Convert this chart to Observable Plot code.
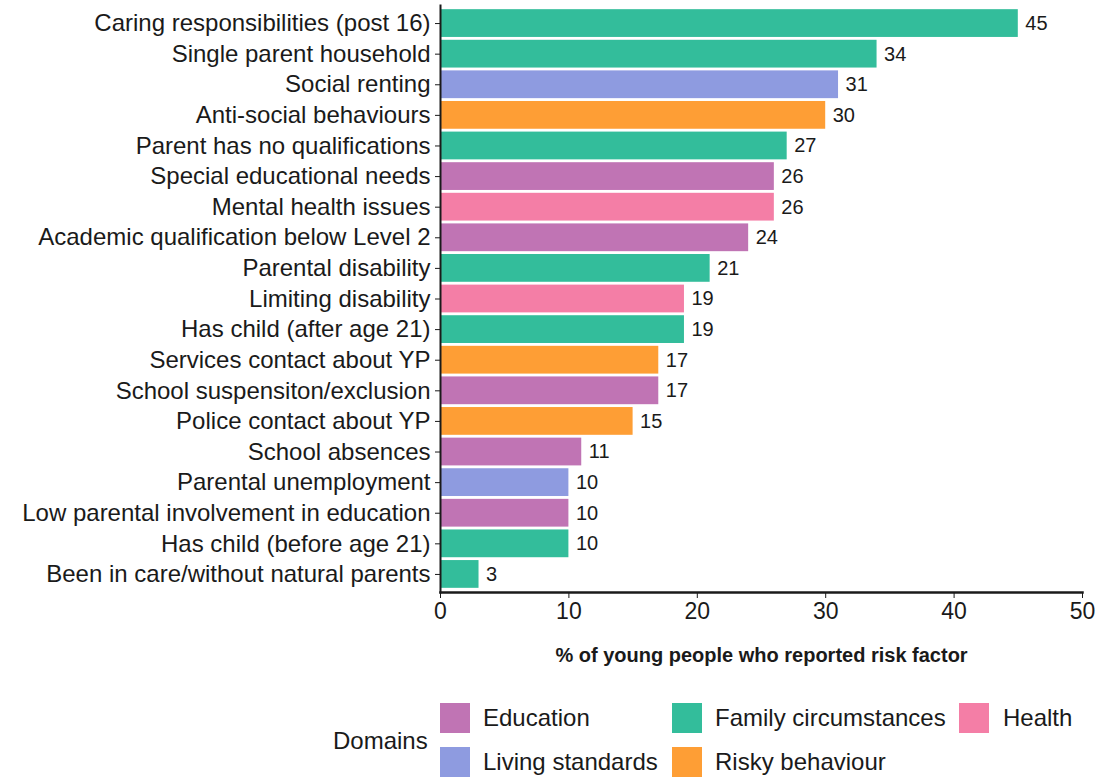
<!DOCTYPE html>
<html>
<head>
<meta charset="utf-8">
<script src="https://cdn.jsdelivr.net/npm/d3@7"></script>
<script src="https://cdn.jsdelivr.net/npm/@observablehq/plot@0.6"></script>
<style>
  body { margin: 0; background: #fff; font-family: "Liberation Sans", Arial, sans-serif; }
  #wrap { position: relative; width: 1115px; height: 777px; overflow: hidden; }
  #legend { position: absolute; left: 0; top: 0; width: 1115px; height: 777px; pointer-events: none; }
  .lg { position: absolute; font-size: 24px; color: #1a1a1a; line-height: 30px; white-space: nowrap; }
  .sw { position: absolute; width: 30px; height: 30px; }
</style>
</head>
<body>
<div id="wrap"><div id="chart"></div><div id="legend"></div></div>
<script>
const factors = [
  "Caring responsibilities (post 16)",
  "Single parent household",
  "Social renting",
  "Anti-social behaviours",
  "Parent has no qualifications",
  "Special educational needs",
  "Mental health issues",
  "Academic qualification below Level 2",
  "Parental disability",
  "Limiting disability",
  "Has child (after age 21)",
  "Services contact about YP",
  "School suspensiton/exclusion",
  "Police contact about YP",
  "School absences",
  "Parental unemployment",
  "Low parental involvement in education",
  "Has child (before age 21)",
  "Been in care/without natural parents"
];
const percents = [45, 34, 31, 30, 27, 26, 26, 24, 21, 19, 19, 17, 17, 15, 11, 10, 10, 10, 3];
const domains = [
  "Family circumstances", "Family circumstances", "Living standards", "Risky behaviour",
  "Family circumstances", "Education", "Health", "Education", "Family circumstances",
  "Health", "Family circumstances", "Risky behaviour", "Education", "Risky behaviour",
  "Education", "Living standards", "Education", "Family circumstances", "Family circumstances"
];
const domainNames = ["Education", "Family circumstances", "Health", "Living standards", "Risky behaviour"];
const domainColors = ["#c074b4", "#33bd9b", "#f47ea6", "#8e9be0", "#fe9e35"];
const xTicks = [0, 10, 20, 30, 40, 50];

const data = factors.map((f, i) => ({factor: f, value: percents[i], domain: domains[i]}));

const chart = Plot.plot({
  width: 1115,
  height: 680,
  marginLeft: 440,
  marginRight: 33,
  marginTop: 5,
  marginBottom: 88,
  style: {fontFamily: "Liberation Sans, Arial, sans-serif", color: "#1a1a1a", background: "#fff"},
  x: {domain: [0, 50], ticks: xTicks},
  y: {domain: factors, paddingInner: 0.06, paddingOuter: 0.12, round: false},
  color: {domain: domainNames, range: domainColors},
  marks: [
    Plot.barX(data, {x: "value", y: "factor", fill: "domain", insetTop: 0.5, insetBottom: 0.5}),
    Plot.text(data, {x: "value", y: "factor", text: d => String(d.value), textAnchor: "start", dx: 7, fontSize: 20, fill: "#1a1a1a"}),
    Plot.axisY({tickSize: 5, tickPadding: 5, fontSize: 24, label: null, stroke: "#1a1a1a", fill: "#1a1a1a"}),
    Plot.axisX({ticks: xTicks, tickSize: 6, tickPadding: 4, fontSize: 23, label: null, stroke: "#1a1a1a", fill: "#1a1a1a"}),
    Plot.frame({anchor: "left", stroke: "#1a1a1a", strokeWidth: 2}),
    Plot.frame({anchor: "bottom", stroke: "#1a1a1a", strokeWidth: 2.5}),
    Plot.text(["% of young people who reported risk factor"], {frameAnchor: "bottom", dy: 69, fontSize: 20, fontWeight: "bold", fill: "#1a1a1a"})
  ]
});
document.getElementById("chart").appendChild(chart);

// legend (HTML, below the SVG)
const legend = document.getElementById("legend");
const title = document.createElement("div");
title.className = "lg";
title.textContent = "Domains";
title.style.left = "333px";
title.style.top = "726px";
legend.appendChild(title);
const swPos = [[440, 703], [672, 703], [959, 703], [440, 747], [672, 747]];
const txtX = [483, 715, 1003, 483, 715];
domainNames.forEach((name, i) => {
  const sw = document.createElement("div");
  sw.className = "sw";
  sw.style.left = swPos[i][0] + "px";
  sw.style.top = swPos[i][1] + "px";
  sw.style.background = domainColors[i];
  legend.appendChild(sw);
  const t = document.createElement("div");
  t.className = "lg";
  t.style.left = txtX[i] + "px";
  t.style.top = swPos[i][1] + "px";
  t.textContent = name;
  legend.appendChild(t);
});
</script>
</body>
</html>
